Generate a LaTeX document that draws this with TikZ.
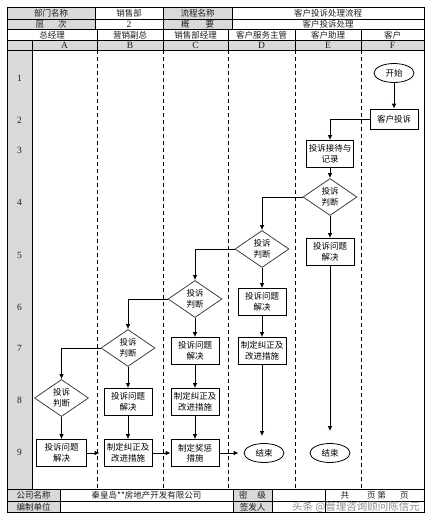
\documentclass[tikz,border=0pt]{standalone}
\usepackage{fontspec}
\setmainfont{Liberation Serif}
\newfontfamily\cjk{Noto Sans CJK SC}
\usetikzlibrary{shapes.geometric,arrows.meta}
\definecolor{cellgray}{RGB}{217,217,217}
\definecolor{inkgray}{RGB}{30,30,30}
\tikzset{
  hd/.style={font=\cjk\fontsize{8.5}{10}\selectfont,text=inkgray,inner sep=0pt},
  ltr/.style={font=\fontsize{9.5}{10}\selectfont,text=inkgray,inner sep=0pt},
  proc/.style={draw,line width=0.8pt,minimum width=48pt,minimum height=27pt,inner sep=1pt,align=center,font=\cjk\fontsize{8.5}{10.5}\selectfont},
  judge/.style={draw=black!75,line width=0.8pt,diamond,minimum width=54pt,minimum height=37pt,inner sep=0pt,align=center,font=\cjk\fontsize{8.5}{10.5}\selectfont},
  term/.style={draw,line width=0.8pt,ellipse,minimum width=40pt,minimum height=19pt,inner sep=0pt,font=\cjk\fontsize{8.5}{10}\selectfont},
  lane/.style={dash pattern=on 4pt off 3pt,line width=0.8pt},
  arr/.style={-{Latex[length=5pt,width=4.5pt]},line width=0.9pt}
}
\begin{document}
\begin{tikzpicture}[x=1pt,y=-1pt]
\useasboundingbox (0,0) rectangle (434,524);
\fill[cellgray] (7,7) rectangle (95,29);
\fill[cellgray] (163,7) rectangle (232,29);
\fill[cellgray] (7,40) rectangle (424,50);
\fill[cellgray] (7,50) rectangle (32,489);
\fill[cellgray] (7,489) rectangle (60,512);
\fill[cellgray] (233,489) rectangle (272,512);
\draw[line width=0.8pt] (7,7) rectangle (424,512);
\foreach \y in {19,29,40,50,489,501} \draw[line width=0.8pt] (7,\y) -- (424,\y);
\foreach \x in {95,163,232} \draw[line width=0.8pt] (\x,7) -- (\x,29);
\foreach \x in {97,163,228,295,361} \draw[line width=0.8pt] (\x,29) -- (\x,50);
\draw[line width=0.8pt] (32,40) -- (32,489);
\foreach \x in {97,163,228,295,361} \draw[lane] (\x,50) -- (\x,489);
\foreach \x in {60,233,272,325} \draw[line width=0.8pt] (\x,489) -- (\x,512);

\node[hd] at (51,13) {部门名称};
\node[hd] at (129,13) {销售部};
\node[hd] at (197.5,13) {流程名称};
\node[hd] at (328,13) {客户投诉处理流程};
\node[hd] at (51,24) {层\hspace{14pt}次};
\node[ltr] at (129,24) {2};
\node[hd] at (197.5,24) {概\hspace{16pt}要};
\node[hd] at (328,24) {客户投诉处理};
\node[hd] at (52,35) {总经理};
\node[hd] at (130,35) {营销副总};
\node[hd] at (195.5,35) {销售部经理};
\node[hd] at (261.5,35) {客户服务主管};
\node[hd] at (328,35) {客户助理};
\node[hd] at (392.5,35) {客户};
\foreach \c/\x in {A/64.5,B/130,C/195.5,D/261.5,E/328,F/392.5}
  \node[ltr] at (\x,45.5) {\c};
\foreach \n/\y in {1/78,2/120,3/150,4/202,5/255,6/307,7/348,8/400,9/452}
  \node[ltr] at (19.5,\y) {\n};

\node[hd] at (33.5,495) {公司名称};
\node[hd] at (146.5,495) {秦皇岛**房地产开发有限公司};
\node[hd] at (252.5,495) {密\hspace{10pt}级};
\node[hd] at (374.5,495) {共\hspace{18pt}页\hspace{2pt}第\hspace{14pt}页};
\node[hd] at (33.5,507) {编制单位};
\node[hd] at (252.5,507) {签发人};
\node[font=\cjk\fontsize{10.5}{12}\selectfont,text=black!45,inner sep=0pt] at (356,507) {头条 @管理咨询顾问陈信元};

\node[term] (start) at (394,73) {开始};
\node[proc,minimum height=20pt] (cust) at (394,119) {客户投诉};
\node[proc,minimum width=47pt] (recv) at (330,154) {投诉接待与\\记录};
\node[judge] (judgeE) at (330,197) {投诉\\判断};
\node[proc] (solveE) at (330,252) {投诉问题\\解决};
\node[term] (endE) at (330,453) {结束};
\node[judge] (judgeD) at (262,249) {投诉\\判断};
\node[proc] (solveD) at (262,302) {投诉问题\\解决};
\node[proc] (fixD) at (262,351) {制定纠正及\\改进措施};
\node[term] (endD) at (264,453) {结束};
\node[judge] (judgeC) at (195,299) {投诉\\判断};
\node[proc] (solveC) at (195,351) {投诉问题\\解决};
\node[proc] (fixC) at (195,402) {制定纠正及\\改进措施};
\node[proc] (rewC) at (195,453) {制定奖惩\\措施};
\node[judge] (judgeB) at (128,348) {投诉\\判断};
\node[proc] (solveB) at (128,402) {投诉问题\\解决};
\node[proc] (fixB) at (128,453) {制定纠正及\\改进措施};
\node[judge] (judgeA) at (61.5,398) {投诉\\判断};
\node[proc,minimum width=50pt] (solveA) at (61.5,453) {投诉问题\\解决};

\draw[arr] (start) -- (cust);
\draw[arr] (cust.west) -| (recv.north);
\draw[arr] (recv) -- (judgeE);
\draw[arr] (judgeE) -- (solveE);
\draw[arr,shorten >=12pt] (solveE) -- (endE);
\draw[arr] (judgeE.west) -| (judgeD.north);
\draw[arr] (judgeD) -- (solveD);
\draw[arr] (solveD) -- (fixD);
\draw[arr,shorten >=7pt] (fixD.south) -- (fixD.south |- endD.north);
\draw[arr] (judgeD.west) -| (judgeC.north);
\draw[arr] (judgeC) -- (solveC);
\draw[arr] (solveC) -- (fixC);
\draw[arr] (fixC) -- (rewC);
\draw[arr,shorten >=5pt] (rewC) -- (endD);
\draw[arr] (judgeC.west) -| (judgeB.north);
\draw[arr] (judgeB) -- (solveB);
\draw[arr] (solveB) -- (fixB);
\draw[arr] (fixB) -- (rewC);
\draw[arr] (judgeB.west) -| (judgeA.north);
\draw[arr] (judgeA) -- (solveA);
\draw[arr,shorten >=4pt] (solveA) -- (fixB);
\end{tikzpicture}
\end{document}
